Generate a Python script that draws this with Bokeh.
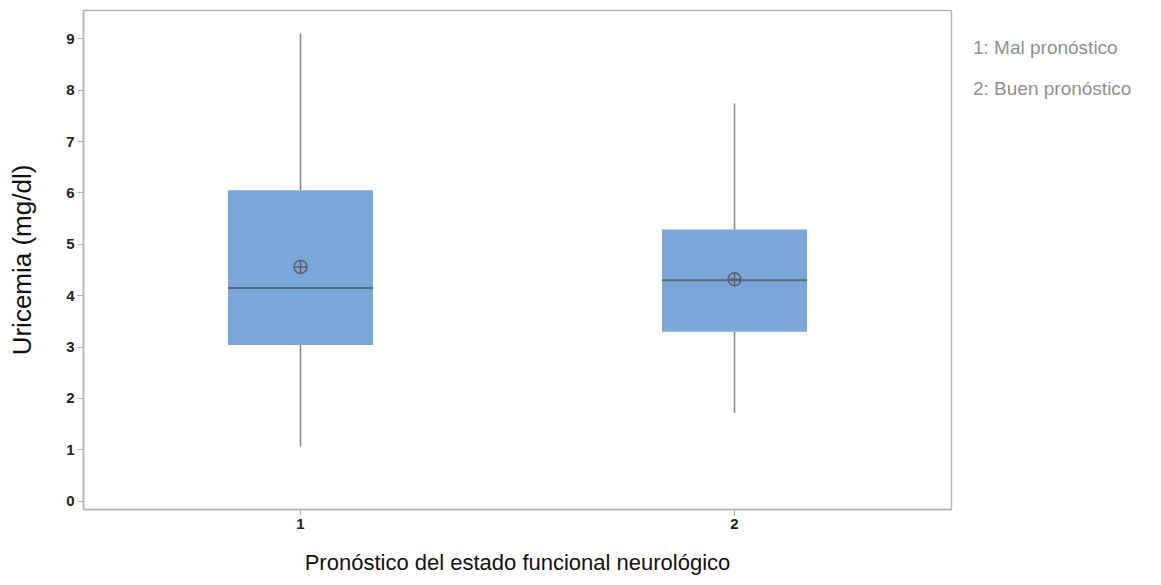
from bokeh.plotting import figure
from bokeh.models import FactorRange, Range1d, FixedTicker, ColumnDataSource, Div
from bokeh.layouts import row
from bokeh.embed import file_html
from bokeh.resources import INLINE

# Data
categories = ["1", "2"]
q1 = [3.04, 3.30]
median = [4.15, 4.30]
q3 = [6.05, 5.29]
whisker_low = [1.06, 1.72]
whisker_high = [9.10, 7.74]
means = [4.56, 4.32]
legend_texts = ["1: Mal pronóstico", "2: Buen pronóstico"]
y_ticks = [0, 1, 2, 3, 4, 5, 6, 7, 8, 9]

src = ColumnDataSource(dict(cat=categories, q1=q1, med=median, q3=q3,
                            lo=whisker_low, hi=whisker_high, mean=means))

p = figure(width=960, height=577, output_backend="svg", toolbar_location=None,
           x_range=FactorRange(*categories, range_padding=0),
           y_range=Range1d(-0.16, 9.55),
           min_border_left=83, min_border_right=9, min_border_top=10, min_border_bottom=67)

p.background_fill_color = "white"
p.border_fill_color = "white"
p.outline_line_color = "#b4b4b4"
p.outline_line_width = 1.5
p.xgrid.visible = False
p.ygrid.visible = False

# whiskers
p.segment(x0="cat", y0="lo", x1="cat", y1="q1", source=src, line_color="#8a8a8a", line_width=1.6)
p.segment(x0="cat", y0="q3", x1="cat", y1="hi", source=src, line_color="#8a8a8a", line_width=1.6)
# boxes
p.vbar(x="cat", width=0.334, bottom="q1", top="q3", source=src,
       fill_color="#7BA6D8", line_color=None)
# medians
p.rect(x="cat", y="med", width=0.334, height=2, height_units="screen", source=src,
       fill_color="#5B6878", line_color=None)
# means
p.scatter(x="cat", y="mean", source=src, marker="circle_cross", size=13,
          fill_color=None, line_color="#5a5f66", line_width=1.4)

for ax in (p.xaxis[0], p.yaxis[0]):
    ax.axis_line_color = "#b4b4b4"
    ax.axis_line_width = 1.5
    ax.major_tick_line_color = "#b4b4b4"
    ax.major_tick_line_width = 1.2
    ax.major_tick_out = 6
    ax.major_tick_in = 0
    ax.minor_tick_line_color = None
    ax.major_label_text_font = "Liberation Sans"
    ax.major_label_text_font_style = "bold"
    ax.major_label_text_font_size = "15px"
    ax.major_label_text_color = "#222222"
    ax.major_label_standoff = 3
    ax.axis_label_text_font = "Liberation Sans"
    ax.axis_label_text_font_style = "normal"
    ax.axis_label_text_color = "#111111"

p.yaxis.ticker = FixedTicker(ticks=y_ticks)
p.yaxis.axis_label = "Uricemia (mg/dl)"
p.yaxis.axis_label_text_font_size = "26px"
p.yaxis.axis_label_standoff = 26

p.xaxis.axis_label = "Pronóstico del estado funcional neurológico"
p.xaxis.axis_label_text_font_size = "22px"
p.xaxis.axis_label_standoff = 18

legend_html = "<br>".join(legend_texts)
div = Div(text=legend_html, width=190, height=200,
          styles={"font-family": "'Liberation Sans', Arial, sans-serif",
                  "font-size": "19px", "color": "#909090", "line-height": "41px",
                  "padding-top": "22px", "padding-left": "8px", "white-space": "nowrap"})

layout = row(p, div)
open("out.html", "w").write(file_html(layout, INLINE))
